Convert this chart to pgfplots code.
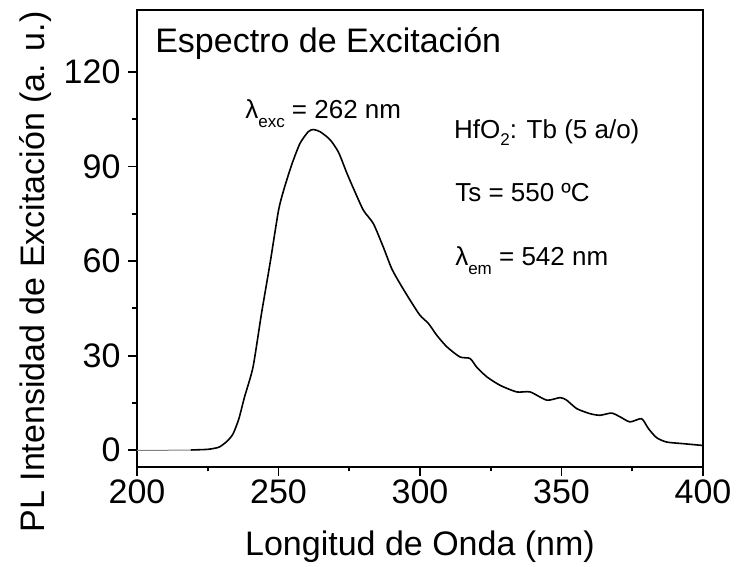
\documentclass[border=0pt]{standalone}
\usepackage{fontspec}
\setmainfont{Liberation Sans}
\usepackage{pgfplots}
\pgfplotsset{compat=1.18}
\begin{document}
\begin{tikzpicture}
\useasboundingbox (-137pt,-100pt) rectangle (600pt,467pt);
\begin{axis}[
  scale only axis,
  width=566pt, height=457pt,
  xmin=200, xmax=400, ymin=-5.3, ymax=139.6,
  xtick={200,250,300,350,400},
  ytick={0,30,60,90,120},
  minor x tick num=1, minor y tick num=1,
  xtick pos=bottom, ytick pos=left,
  tick align=outside,
  major tick length=9pt, minor tick length=4.5pt,
  axis line style={line width=1.8pt},
  every tick/.style={line width=1.8pt, black},
  /pgf/number format/assume math mode=true,
  ticklabel style={font=\fontsize{34}{40}\selectfont},
  yticklabel style={xshift=-4pt},
  xlabel={Longitud de Onda (nm)},
  ylabel={PL Intensidad de Excitación (a. u.)},
  label style={font=\fontsize{34}{40}\selectfont},
  xlabel style={at={(axis description cs:0.5,-0.1926)}, anchor=base},
  ylabel style={at={(axis description cs:-0.1634,0.427)}, anchor=base},
  clip=true,
]
\addplot[gray, line width=1pt] coordinates {(200,0) (210,0) (221,0.1)};
\addplot[black, line width=1.6pt, smooth, tension=0.4] coordinates {
(219,0.1) (225,0.3) (229,1.0) (232,3.0) (234,5.3) (236,10) (238,16.9) (241,26.4)
(244,43.4) (247,59.2) (250,76) (252,83) (254.8,90.9) (257.6,97.3) (260.5,101)
(262.3,101.7) (264.7,101) (268.2,98.5) (271.2,94.5) (274.1,88) (276.5,83)
(280,76.1) (283.5,71.9) (287,64.5) (290,57.6) (292.9,52.9) (296.5,47.6)
(300,42.8) (303,40.2) (305.9,36.5) (309.5,32.8) (314.1,29.6) (317.7,29.1)
(320,26.4) (323.6,23.3) (328.3,20.6) (334.2,18.5) (338.9,18.5) (344.8,15.9)
(349.5,16.7) (351.8,15.9) (355.4,13.2) (360.1,11.6) (363.6,11.1) (367.7,11.8)
(370.7,10.6) (374.2,9.0) (378.3,10.0) (380.7,6.9) (383.6,4.0) (387.2,2.6)
(393,2.1) (399,1.6) (400,1.5)};
\node[anchor=base west, inner sep=0pt, font=\fontsize{34}{40}\selectfont] at (axis cs:206.4,126.2) {Espectro de Excitación};
\node[anchor=base west, inner sep=0pt, font=\fontsize{26}{30}\selectfont] at (axis cs:238.2,105.3) {λ\raisebox{-9pt}{\fontsize{17}{20}\selectfont exc} = 262 nm};
\node[anchor=base west, inner sep=0pt, font=\fontsize{26}{30}\selectfont] at (axis cs:312,98.7) {HfO\raisebox{-7pt}{\fontsize{17}{20}\selectfont 2}: Tb (5 a/o)};
\node[anchor=base west, inner sep=0pt, font=\fontsize{26}{30}\selectfont] at (axis cs:312.4,78.8) {Ts = 550 ºC};
\node[anchor=base west, inner sep=0pt, font=\fontsize{26}{30}\selectfont] at (axis cs:312.4,58.7) {λ\raisebox{-9pt}{\fontsize{17}{20}\selectfont em} = 542 nm};
\end{axis}
\end{tikzpicture}
\end{document}
